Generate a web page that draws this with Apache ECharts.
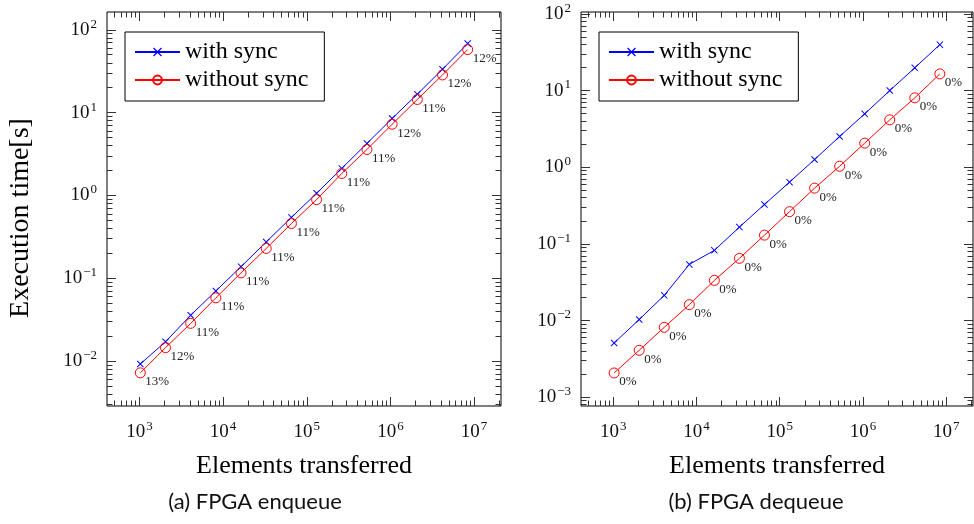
<!DOCTYPE html>
<html>
<head>
<meta charset="utf-8">
<script src="https://cdn.jsdelivr.net/npm/echarts@6/dist/echarts.min.js"></script>
<style>
html,body{margin:0;padding:0;background:#fff;}
#chart{width:974px;height:524px;}
</style>
</head>
<body>
<div id="chart"></div>
<script>
// ---- data ----
const elements = [1024, 2048, 4096, 8192, 16384, 32768, 65536, 131072, 262144, 524288, 1048576, 2097152, 4194304, 8388608];

const enqWithSync    = [0.0092, 0.0171, 0.0357, 0.0702, 0.138, 0.274, 0.543, 1.06, 2.12, 4.24, 8.49, 16.7, 33.4, 68.2];
const enqWithoutSync = [0.0072, 0.0145, 0.0285, 0.058, 0.116, 0.229, 0.458, 0.89, 1.84, 3.59, 7.24, 14.4, 28.5, 57.7];
const enqOverhead    = ['13%', '12%', '11%', '11%', '11%', '11%', '11%', '11%', '11%', '11%', '12%', '11%', '12%', '12%'];

const deqWithSync    = [0.0051, 0.0103, 0.0213, 0.054, 0.0823, 0.1655, 0.327, 0.639, 1.26, 2.52, 4.97, 10.0, 19.8, 39.7];
const deqWithoutSync = [0.00207, 0.00409, 0.00816, 0.0161, 0.0334, 0.0647, 0.130, 0.263, 0.534, 1.03, 2.06, 4.15, 8.04, 16.5];
const deqOverhead    = ['0%', '0%', '0%', '0%', '0%', '0%', '0%', '0%', '0%', '0%', '0%', '0%', '0%', '0%'];

const xTickExponents  = [3, 4, 5, 6, 7];
const yTickExponentsA = [-2, -1, 0, 1, 2];
const yTickExponentsB = [-3, -2, -1, 0, 1, 2];

const seriesNames = ['with sync', 'without sync'];
const captions = ['(a) FPGA enqueue', '(b) FPGA dequeue'];
const xTitle = 'Elements transferred';
const yTitle = 'Execution time[s]';

// ---- layout / style ----
const SERIF = '"Liberation Serif", "Times New Roman", serif';
const SANS = 'Lato, "Noto Sans", sans-serif';
const X_RANGE = [2.612, 7.322];           // log10 extents
const Y_RANGE_A = [-2.543, 2.215];
const Y_RANGE_B = [-3.115, 2.025];
const BLUE = '#0000ff', RED = '#ff0000';
const X_MARK = 'path://M0,1L1,0L5,4L9,0L10,1L6,5L10,9L9,10L5,6L1,10L0,9L4,5Z';

function minorTicks(lo, hi) {
  const out = [];
  for (let d = Math.floor(lo); d <= Math.ceil(hi); d++) {
    for (let k = 2; k <= 9; k++) {
      const v = d + Math.log10(k);
      if (v > lo && v < hi) out.push(v);
    }
  }
  return out;
}
function majorTicks(exps, lo, hi) { return exps.filter(v => v >= lo && v <= hi); }

const rich = {
  b: { fontFamily: SERIF, fontSize: 19, color: '#111', lineHeight: 24 },
  s: { fontFamily: SERIF, fontSize: 13, color: '#111', lineHeight: 13, verticalAlign: 'top', padding: [0, 0, 0, 1] }
};
function powLabel(v) {
  const e = Math.round(v);
  return '{b|10}{s|' + String(e).replace('-', '\u2212') + '}';
}

function axisSet(dim, gi, range, exps, positions, withLabel, name, nameGap) {
  const major = majorTicks(exps, range[0], range[1]);
  const minor = minorTicks(range[0], range[1]);
  const axes = [];
  positions.forEach((pos, pi) => {
    [major, minor].forEach((vals, mi) => {
      const ax = {
        type: 'value', gridIndex: gi, position: pos,
        min: range[0], max: range[1],
        splitLine: { show: false },
        axisLine: { show: false, onZero: false },
        axisTick: { show: true, inside: true, length: mi === 0 ? 9 : 5.5,
                    customValues: vals, lineStyle: { color: '#333', width: 1 } },
        axisLabel: { show: false }
      };
      if (withLabel && pi === 0 && mi === 0) {
        ax.axisLabel = { show: true, customValues: vals, formatter: powLabel, rich: rich,
                         margin: dim === 'x' ? 14 : 10 };
        if (name) {
          ax.name = name;
          ax.nameLocation = 'middle';
          ax.nameGap = nameGap;
          ax.nameTextStyle = { fontFamily: SERIF, fontSize: dim === 'y' ? 28 : 26, color: '#000',
                               padding: dim === 'y' ? [0, 18, 0, 0] : 0 };
        }
      }
      axes.push(ax);
    });
  });
  return axes;
}

const xAxes = [].concat(
  axisSet('x', 0, X_RANGE, xTickExponents, ['bottom', 'top'], true, xTitle, 47),
  axisSet('x', 1, X_RANGE, xTickExponents, ['bottom', 'top'], true, xTitle, 47)
);
const yAxes = [].concat(
  axisSet('y', 0, Y_RANGE_A, yTickExponentsA, ['left', 'right'], true, yTitle, 72),
  axisSet('y', 1, Y_RANGE_B, yTickExponentsB, ['left', 'right'], true, null, 0)
);
function pts(vals) { return elements.map((x, i) => [Math.log10(x), Math.log10(vals[i])]); }

function makeSeries(gi, withVals, withoutVals, pct) {
  const xi = gi * 4, yi = gi * 4;
  return [
    {
      name: seriesNames[0], type: 'line', xAxisIndex: xi, yAxisIndex: yi,
      data: pts(withVals), symbol: X_MARK, symbolSize: 7,
      lineStyle: { color: BLUE, width: 1 }, itemStyle: { color: BLUE },
      z: 3
    },
    {
      name: seriesNames[1], type: 'line', xAxisIndex: xi, yAxisIndex: yi,
      data: pts(withoutVals), symbol: 'circle', symbolSize: 10,
      lineStyle: { color: RED, width: 1 },
      itemStyle: { color: 'rgba(255,255,255,0)', borderColor: RED, borderWidth: 1 },
      label: {
        show: true, position: 'inside', align: 'left', verticalAlign: 'middle',
        offset: [5, 9], formatter: p => pct[p.dataIndex],
        fontFamily: SERIF, fontSize: 13, color: '#222'
      },
      z: 4
    }
  ];
}

function legendAt(left) {
  return {
    left: left, top: 32, orient: 'vertical', data: seriesNames,
    itemWidth: 45, itemHeight: 11, itemGap: 0,
    padding: [6, 16, 7, 9],
    borderColor: '#000', borderWidth: 1, backgroundColor: '#fff',
    textStyle: { fontFamily: SERIF, fontSize: 24, lineHeight: 28, color: '#000' },
    selectedMode: false
  };
}

const option = {
  animation: false,
  backgroundColor: '#fff',
  grid: [
    { left: 107, top: 12, width: 394, height: 394, show: true, borderColor: '#000', borderWidth: 1, backgroundColor: 'transparent' },
    { left: 581, top: 12, width: 392, height: 394, show: true, borderColor: '#000', borderWidth: 1, backgroundColor: 'transparent' }
  ],
  legend: [legendAt(125), legendAt(599)],
  xAxis: xAxes,
  yAxis: yAxes,
  series: [].concat(
    makeSeries(0, enqWithSync, enqWithoutSync, enqOverhead),
    makeSeries(1, deqWithSync, deqWithoutSync, deqOverhead)
  ),
  graphic: [
    { type: 'text', x: 255, y: 502, style: { text: captions[0], fontFamily: SANS, fontSize: 22, fill: '#111', align: 'center', verticalAlign: 'middle', textAlign: 'center', textVerticalAlign: 'middle' } },
    { type: 'text', x: 756, y: 502, style: { text: captions[1], fontFamily: SANS, fontSize: 22, fill: '#111', align: 'center', verticalAlign: 'middle', textAlign: 'center', textVerticalAlign: 'middle' } }
  ]
};

const chart = echarts.init(document.getElementById('chart'), null, { renderer: 'canvas' });
chart.setOption(option);
</script>
</body>
</html>
